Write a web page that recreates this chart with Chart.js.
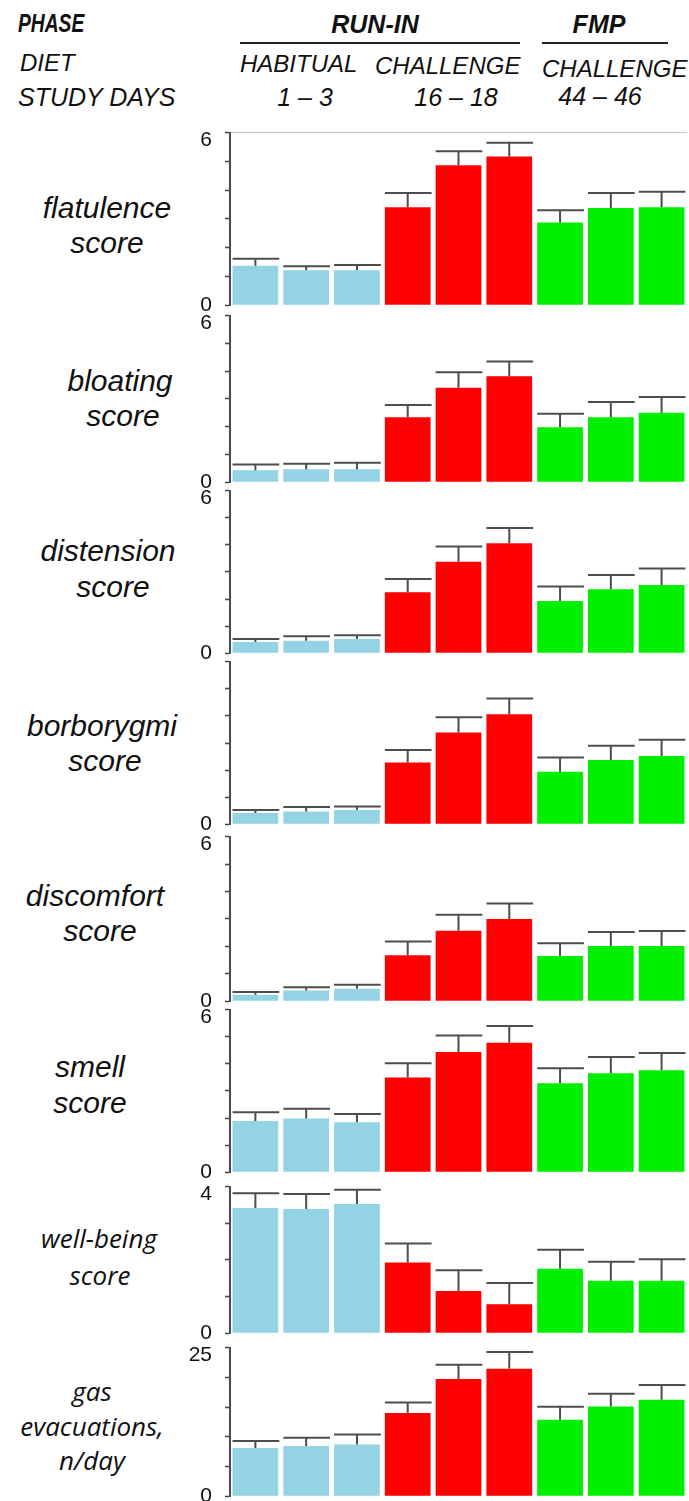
<!DOCTYPE html>
<html>
<head>
<meta charset="utf-8">
<script src="https://cdn.jsdelivr.net/npm/chart.js@4.4.1/dist/chart.umd.min.js"></script>
<style>
  html, body { margin: 0; padding: 0; background: #fff; }
  #page { position: relative; width: 689px; height: 1501px; overflow: hidden; background: #fff; }
  .t { position: absolute; white-space: nowrap; line-height: 1; color: #111;
       font-family: "Liberation Sans", Arial, sans-serif; font-style: italic; }
  .b { font-weight: bold; }
  .c { transform: translateX(-50%); }
  .lab { font-size: 30px; }
  .lab2 { font-size: 26px; font-family: "Open Sans", sans-serif; }
  .rule { position: absolute; height: 2px; background: #222; }
  canvas { position: absolute; }
</style>
</head>
<body>
<div id="page">
  <!-- header -->
  <div class="t b" style="left:18px;top:10px;font-size:26px;transform:scaleX(0.74);transform-origin:left;">PHASE</div>
  <div class="t b c" style="left:375px;top:12px;font-size:25px;">RUN-IN</div>
  <div class="t b c" style="left:599px;top:12px;font-size:25px;">FMP</div>
  <div class="rule" style="left:240px;top:42px;width:280px;"></div>
  <div class="rule" style="left:542px;top:42px;width:126px;"></div>
  <div class="t" style="left:20px;top:51px;font-size:24px;">DIET</div>
  <div class="t" style="left:240px;top:52px;font-size:24px;">HABITUAL</div>
  <div class="t" style="left:375px;top:54px;font-size:24px;">CHALLENGE</div>
  <div class="t" style="left:542px;top:57px;font-size:24px;">CHALLENGE</div>
  <div class="t" style="left:18px;top:85px;font-size:25px;">STUDY DAYS</div>
  <div class="t c" style="left:305px;top:85px;font-size:25px;">1 – 3</div>
  <div class="t c" style="left:456px;top:85px;font-size:25px;">16 – 18</div>
  <div class="t c" style="left:600px;top:84px;font-size:25px;">44 – 46</div>

  <!-- row labels -->
  <div class="t c lab" style="left:107px;top:193px;">flatulence</div>
  <div class="t c lab" style="left:107px;top:228px;">score</div>
  <div class="t c lab" style="left:120px;top:366px;">bloating</div>
  <div class="t c lab" style="left:123px;top:401px;">score</div>
  <div class="t c lab" style="left:108px;top:536px;">distension</div>
  <div class="t c lab" style="left:113px;top:572px;">score</div>
  <div class="t c lab" style="left:102px;top:711px;">borborygmi</div>
  <div class="t c lab" style="left:105px;top:746px;">score</div>
  <div class="t c lab" style="left:95px;top:881px;">discomfort</div>
  <div class="t c lab" style="left:100px;top:916px;">score</div>
  <div class="t c lab" style="left:90px;top:1052px;">smell</div>
  <div class="t c lab" style="left:90px;top:1088px;">score</div>
  <div class="t c lab2" style="left:99px;top:1225px;">well-being</div>
  <div class="t c lab2" style="left:100px;top:1262px;">score</div>
  <div class="t c lab2" style="left:92px;top:1378px;">gas</div>
  <div class="t c lab2" style="left:92px;top:1413px;">evacuations,</div>
  <div class="t c lab2" style="left:92px;top:1447px;">n/day</div>
</div>

<script>
// study days (3 habitual run-in, 3 challenge run-in, 3 challenge FMP)
const studyDays = ['1', '2', '3', '16', '17', '18', '44', '45', '46'];
const barColors = ['#93d3e4', '#93d3e4', '#93d3e4', '#ff0000', '#ff0000', '#ff0000', '#00ee00', '#00ee00', '#00ee00'];

// means and SEM
const flatulence = [1.37, 1.21, 1.21, 3.41, 4.87, 5.17, 2.88, 3.38, 3.41];
const flatulenceSem = [0.24, 0.14, 0.19, 0.49, 0.49, 0.48, 0.42, 0.52, 0.54];
const bloating = [0.43, 0.46, 0.46, 2.34, 3.40, 3.82, 1.98, 2.34, 2.50];
const bloatingSem = [0.21, 0.20, 0.24, 0.44, 0.56, 0.53, 0.49, 0.55, 0.57];
const distension = [0.41, 0.46, 0.52, 2.25, 3.38, 4.06, 1.93, 2.36, 2.52];
const distensionSem = [0.11, 0.16, 0.14, 0.49, 0.56, 0.56, 0.53, 0.53, 0.61];
const borborygmi = [0.41, 0.47, 0.52, 2.28, 3.39, 4.06, 1.94, 2.37, 2.52];
const borborygmiSem = [0.11, 0.16, 0.13, 0.46, 0.56, 0.59, 0.52, 0.53, 0.60];
const discomfort = [0.23, 0.39, 0.45, 1.67, 2.57, 3.00, 1.65, 2.01, 2.01];
const discomfortSem = [0.10, 0.12, 0.15, 0.51, 0.58, 0.56, 0.46, 0.51, 0.55];
const smell = [1.89, 1.98, 1.84, 3.50, 4.44, 4.78, 3.28, 3.65, 3.76];
const smellSem = [0.32, 0.36, 0.31, 0.52, 0.61, 0.62, 0.56, 0.60, 0.64];
const wellBeing = [3.42, 3.39, 3.53, 1.93, 1.15, 0.79, 1.76, 1.43, 1.43];
const wellBeingSem = [0.40, 0.41, 0.39, 0.52, 0.57, 0.58, 0.52, 0.52, 0.59];
const gasEvacuations = [8.09, 8.43, 8.71, 13.99, 19.72, 21.46, 12.87, 15.11, 16.24];
const gasEvacuationsSem = [1.18, 1.40, 1.68, 1.80, 2.41, 2.81, 2.19, 2.14, 2.47];

// axis maxima / tick steps per panel
const axisMax = [6, 6, 6, 6, 6, 6, 4, 25];
const axisStep = [1, 1, 1, 1, 1, 1, 1, 5];

// panel placement: top of axis and zero line, in page pixels
const panels = [
  { data: flatulence, sem: flatulenceSem, top: 133, zero: 305.5, topLine: true },
  { data: bloating, sem: bloatingSem, top: 316, zero: 482.7 },
  { data: distension, sem: distensionSem, top: 490.7, zero: 653.3 },
  { data: borborygmi, sem: borborygmiSem, top: 661.7, zero: 824.3, hideTop: true },
  { data: discomfort, sem: discomfortSem, top: 836.7, zero: 1000.7 },
  { data: smell, sem: smellSem, top: 1009.3, zero: 1172 },
  { data: wellBeing, sem: wellBeingSem, top: 1186.7, zero: 1332.7 },
  { data: gasEvacuations, sem: gasEvacuationsSem, top: 1347.3, zero: 1495.7 }
];

Chart.defaults.font.family = '"Liberation Sans", Arial, sans-serif';

// error bars: upward whisker with a cap as wide as the bar
const errorBars = {
  id: 'errorBars',
  afterDatasetsDraw(chart) {
    const ctx = chart.ctx;
    const yScale = chart.scales.y;
    const ds = chart.data.datasets[0];
    const meta = chart.getDatasetMeta(0);
    ctx.save();
    ctx.strokeStyle = '#4d4d4d';
    ctx.lineWidth = 2;
    meta.data.forEach((bar, i) => {
      const yTop = yScale.getPixelForValue(ds.data[i] + ds.sem[i]);
      const half = bar.width / 2;
      ctx.beginPath();
      ctx.moveTo(bar.x, bar.y);
      ctx.lineTo(bar.x, yTop);
      ctx.moveTo(bar.x - half, yTop);
      ctx.lineTo(bar.x + half + 1, yTop);
      ctx.stroke();
    });
    ctx.restore();
  }
};

const page = document.getElementById('page');
const LEFT = 180;
const WIDTH = 689 - LEFT;

function makeConfig(p, k) {
  const yMax = axisMax[k];
  return {
    type: 'bar',
    data: {
      labels: studyDays,
      datasets: [{
        data: p.data,
        sem: p.sem,
        backgroundColor: barColors,
        borderWidth: 0,
        categoryPercentage: 0.9,
        barPercentage: 1
      }]
    },
    options: {
      responsive: false,
      maintainAspectRatio: false,
      animation: false,
      layout: { padding: { top: 14, bottom: 14, left: 0, right: 2 } },
      plugins: { legend: { display: false }, tooltip: { enabled: false } },
      scales: {
        x: { display: false },
        y: {
          min: 0,
          max: yMax,
          afterFit: s => { s.width = 50; },
          ticks: {
            stepSize: axisStep[k],
            autoSkip: false,
            padding: 13,
            color: '#111',
            font: { size: 21, lineHeight: 0.75 },
            // top value sits just under its tick, as in the original
            callback: v => {
              if (v === 0) return '0';
              if (v === yMax && !p.hideTop) return ['', String(v)];
              return '';
            }
          },
          grid: {
            drawOnChartArea: !!p.topLine,
            color: c => (p.topLine && c.tick && c.tick.value === yMax) ? '#c4c4c4' : 'rgba(0,0,0,0)',
            tickColor: '#444',
            tickLength: 5,
            tickWidth: 1.5
          },
          border: { display: true, color: '#4a4a4a', width: 2 }
        }
      }
    },
    plugins: [errorBars]
  };
}

panels.forEach((p, k) => {
  // first pass: find how far the plot area sits inside the canvas
  const probe = document.createElement('canvas');
  probe.width = WIDTH;
  probe.height = 300;
  probe.style.left = '0px';
  probe.style.top = '0px';
  page.appendChild(probe);
  const tmp = new Chart(probe.getContext('2d'), makeConfig(p, k));
  const offTop = tmp.chartArea.top;
  const offBottom = probe.height - tmp.chartArea.bottom;
  tmp.destroy();
  page.removeChild(probe);

  const canvas = document.createElement('canvas');
  canvas.width = WIDTH;
  canvas.height = Math.round(p.zero - p.top + offTop + offBottom);
  canvas.style.left = LEFT + 'px';
  canvas.style.top = Math.round(p.top - offTop) + 'px';
  page.appendChild(canvas);
  new Chart(canvas.getContext('2d'), makeConfig(p, k));
});
</script>
</body>
</html>
